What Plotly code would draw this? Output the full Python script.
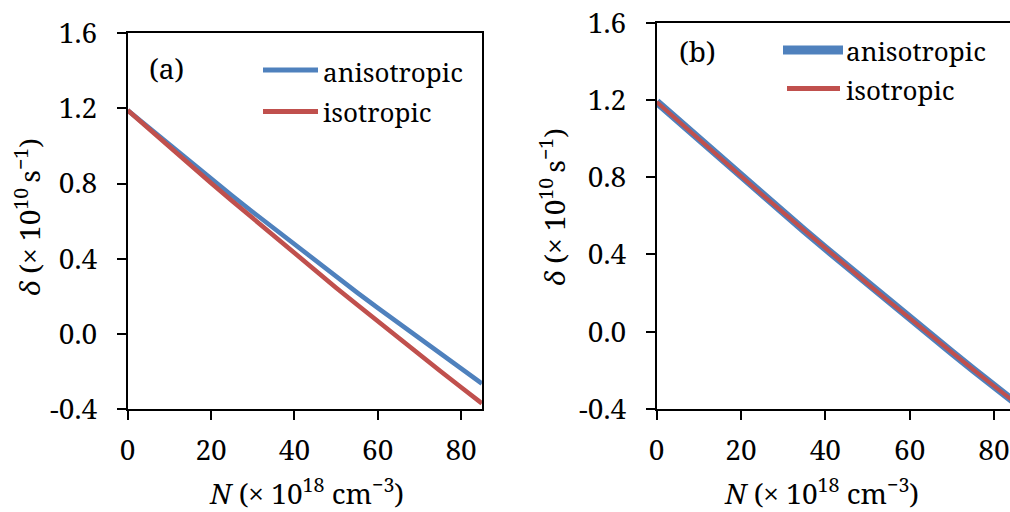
import plotly.graph_objects as go

# Carrier density N (x 10^18 cm^-3)
density = [0, 5, 10, 15, 20, 25, 30, 35, 40, 45, 50, 55, 60, 65, 70, 75, 80, 85]

# Panel (a): detuning delta (x 10^10 s^-1)
aniso_a = [1.190, 1.098, 1.006, 0.916, 0.826, 0.737, 0.649, 0.562, 0.475,
           0.390, 0.305, 0.221, 0.138, 0.056, -0.026, -0.106, -0.186, -0.265]
iso_a = [1.190, 1.092, 0.995, 0.899, 0.803, 0.709, 0.615, 0.521, 0.429,
         0.337, 0.246, 0.156, 0.066, -0.022, -0.110, -0.198, -0.284, -0.370]

# Panel (b): both models coincide
aniso_b = [1.190, 1.093, 0.996, 0.900, 0.805, 0.711, 0.617, 0.524, 0.432,
           0.340, 0.249, 0.159, 0.069, -0.019, -0.107, -0.195, -0.281, -0.366]
iso_b = [1.190, 1.093, 0.996, 0.900, 0.805, 0.711, 0.617, 0.524, 0.432,
         0.340, 0.249, 0.159, 0.069, -0.019, -0.107, -0.195, -0.281, -0.366]

y_ticks = [-0.4, 0.0, 0.4, 0.8, 1.2, 1.6]
y_ticktext = ["-0.4", "0.0", "0.4", "0.8", "1.2", "1.6"]
x_ticks = [0, 20, 40, 60, 80]
x_ticktext = ["0", "20", "40", "60", "80"]

series_names = ["anisotropic", "isotropic"]
BLUE = "#4F81BD"
RED = "#C0504D"
FONT = "Noto Serif"
FS = 28

W, H = 1010, 512


def px(x):
    return x / W


def py(y):
    return 1 - y / H


fig = go.Figure()
fig.add_trace(go.Scatter(x=density, y=aniso_a, mode="lines", name=series_names[0],
                         line=dict(color=BLUE, width=4.6), xaxis="x", yaxis="y"))
fig.add_trace(go.Scatter(x=density, y=iso_a, mode="lines", name=series_names[1],
                         line=dict(color=RED, width=4.6), xaxis="x", yaxis="y"))
fig.add_trace(go.Scatter(x=density, y=aniso_b, mode="lines", name=series_names[0],
                         line=dict(color=BLUE, width=8), xaxis="x2", yaxis="y2"))
fig.add_trace(go.Scatter(x=density, y=iso_b, mode="lines", name=series_names[1],
                         line=dict(color=RED, width=4), xaxis="x2", yaxis="y2"))

axis_common = dict(
    showgrid=False, zeroline=False, showline=True, linecolor="black", linewidth=2,
    ticks="outside", ticklen=9, tickwidth=2, tickcolor="black",
    tickfont=dict(family=FONT, size=FS, color="black"), automargin=False,
)

fig.update_layout(
    width=W, height=H,
    margin=dict(l=0, r=0, t=0, b=0),
    paper_bgcolor="white", plot_bgcolor="white",
    showlegend=False,
    font=dict(family=FONT, size=FS, color="black"),
    xaxis=dict(domain=[px(127.7), px(481.9)], range=[0, 85], anchor="y",
               tickvals=x_ticks, ticktext=x_ticktext, mirror=True,
               ticklabelstandoff=6, **axis_common),
    yaxis=dict(domain=[py(409), py(33.3)], range=[-0.4, 1.6], anchor="x",
               tickvals=y_ticks, ticktext=y_ticktext, mirror=True,
               ticklabelstandoff=14, **axis_common),
    xaxis2=dict(domain=[px(656.7), 1.0], range=[0, 83.8], anchor="y2",
                tickvals=x_ticks, ticktext=x_ticktext, mirror=True,
                ticklabelstandoff=6, **axis_common),
    yaxis2=dict(domain=[py(409), py(22.7)], range=[-0.4, 1.6], anchor="x2",
                tickvals=y_ticks, ticktext=y_ticktext, mirror=False,
                ticklabelstandoff=14, **axis_common),
)

txt_font = dict(family=FONT, size=FS, color="black")
leg_font = dict(family=FONT, size=26, color="black")
xtitle = "<i>N</i> (× 10<sup>18</sup> cm<sup>−3</sup>)"
ytitle = "<i>δ</i> (× 10<sup>10 </sup>s<sup>−1</sup>)"

annotations = [
    # axis titles
    dict(x=px(306), y=py(491), text=xtitle),
    dict(x=px(821), y=py(491), text=xtitle),
    dict(x=px(27), y=py(217), text=ytitle, textangle=-90),
    dict(x=px(552), y=py(207), text=ytitle, textangle=-90),
    # panel tags
    dict(x=px(166), y=py(68), text="(a)"),
    dict(x=px(697), y=py(51), text="(b)"),
    # legend entries
    dict(x=px(321), y=py(72), text=series_names[0], xanchor="left", font=leg_font),
    dict(x=px(321), y=py(112), text=series_names[1], xanchor="left", font=leg_font),
    dict(x=px(844), y=py(51), text=series_names[0], xanchor="left", font=leg_font),
    dict(x=px(844), y=py(90), text=series_names[1], xanchor="left", font=leg_font),
]
for a in annotations:
    a.setdefault("xanchor", "center")
    a.setdefault("font", txt_font)
    a.update(xref="paper", yref="paper", yanchor="middle", showarrow=False)
fig.update_layout(annotations=annotations)

# legend swatches
swatches = [
    (263, 318, 70, BLUE, 5),
    (263, 318, 111.5, RED, 5),
    (783, 843, 50, BLUE, 9),
    (787, 840, 88.5, RED, 5),
]
for x0, x1, yy, c, w in swatches:
    fig.add_shape(type="line", xref="paper", yref="paper",
                  x0=px(x0), x1=px(x1), y0=py(yy), y1=py(yy),
                  line=dict(color=c, width=w))

fig.write_html("out.html")
